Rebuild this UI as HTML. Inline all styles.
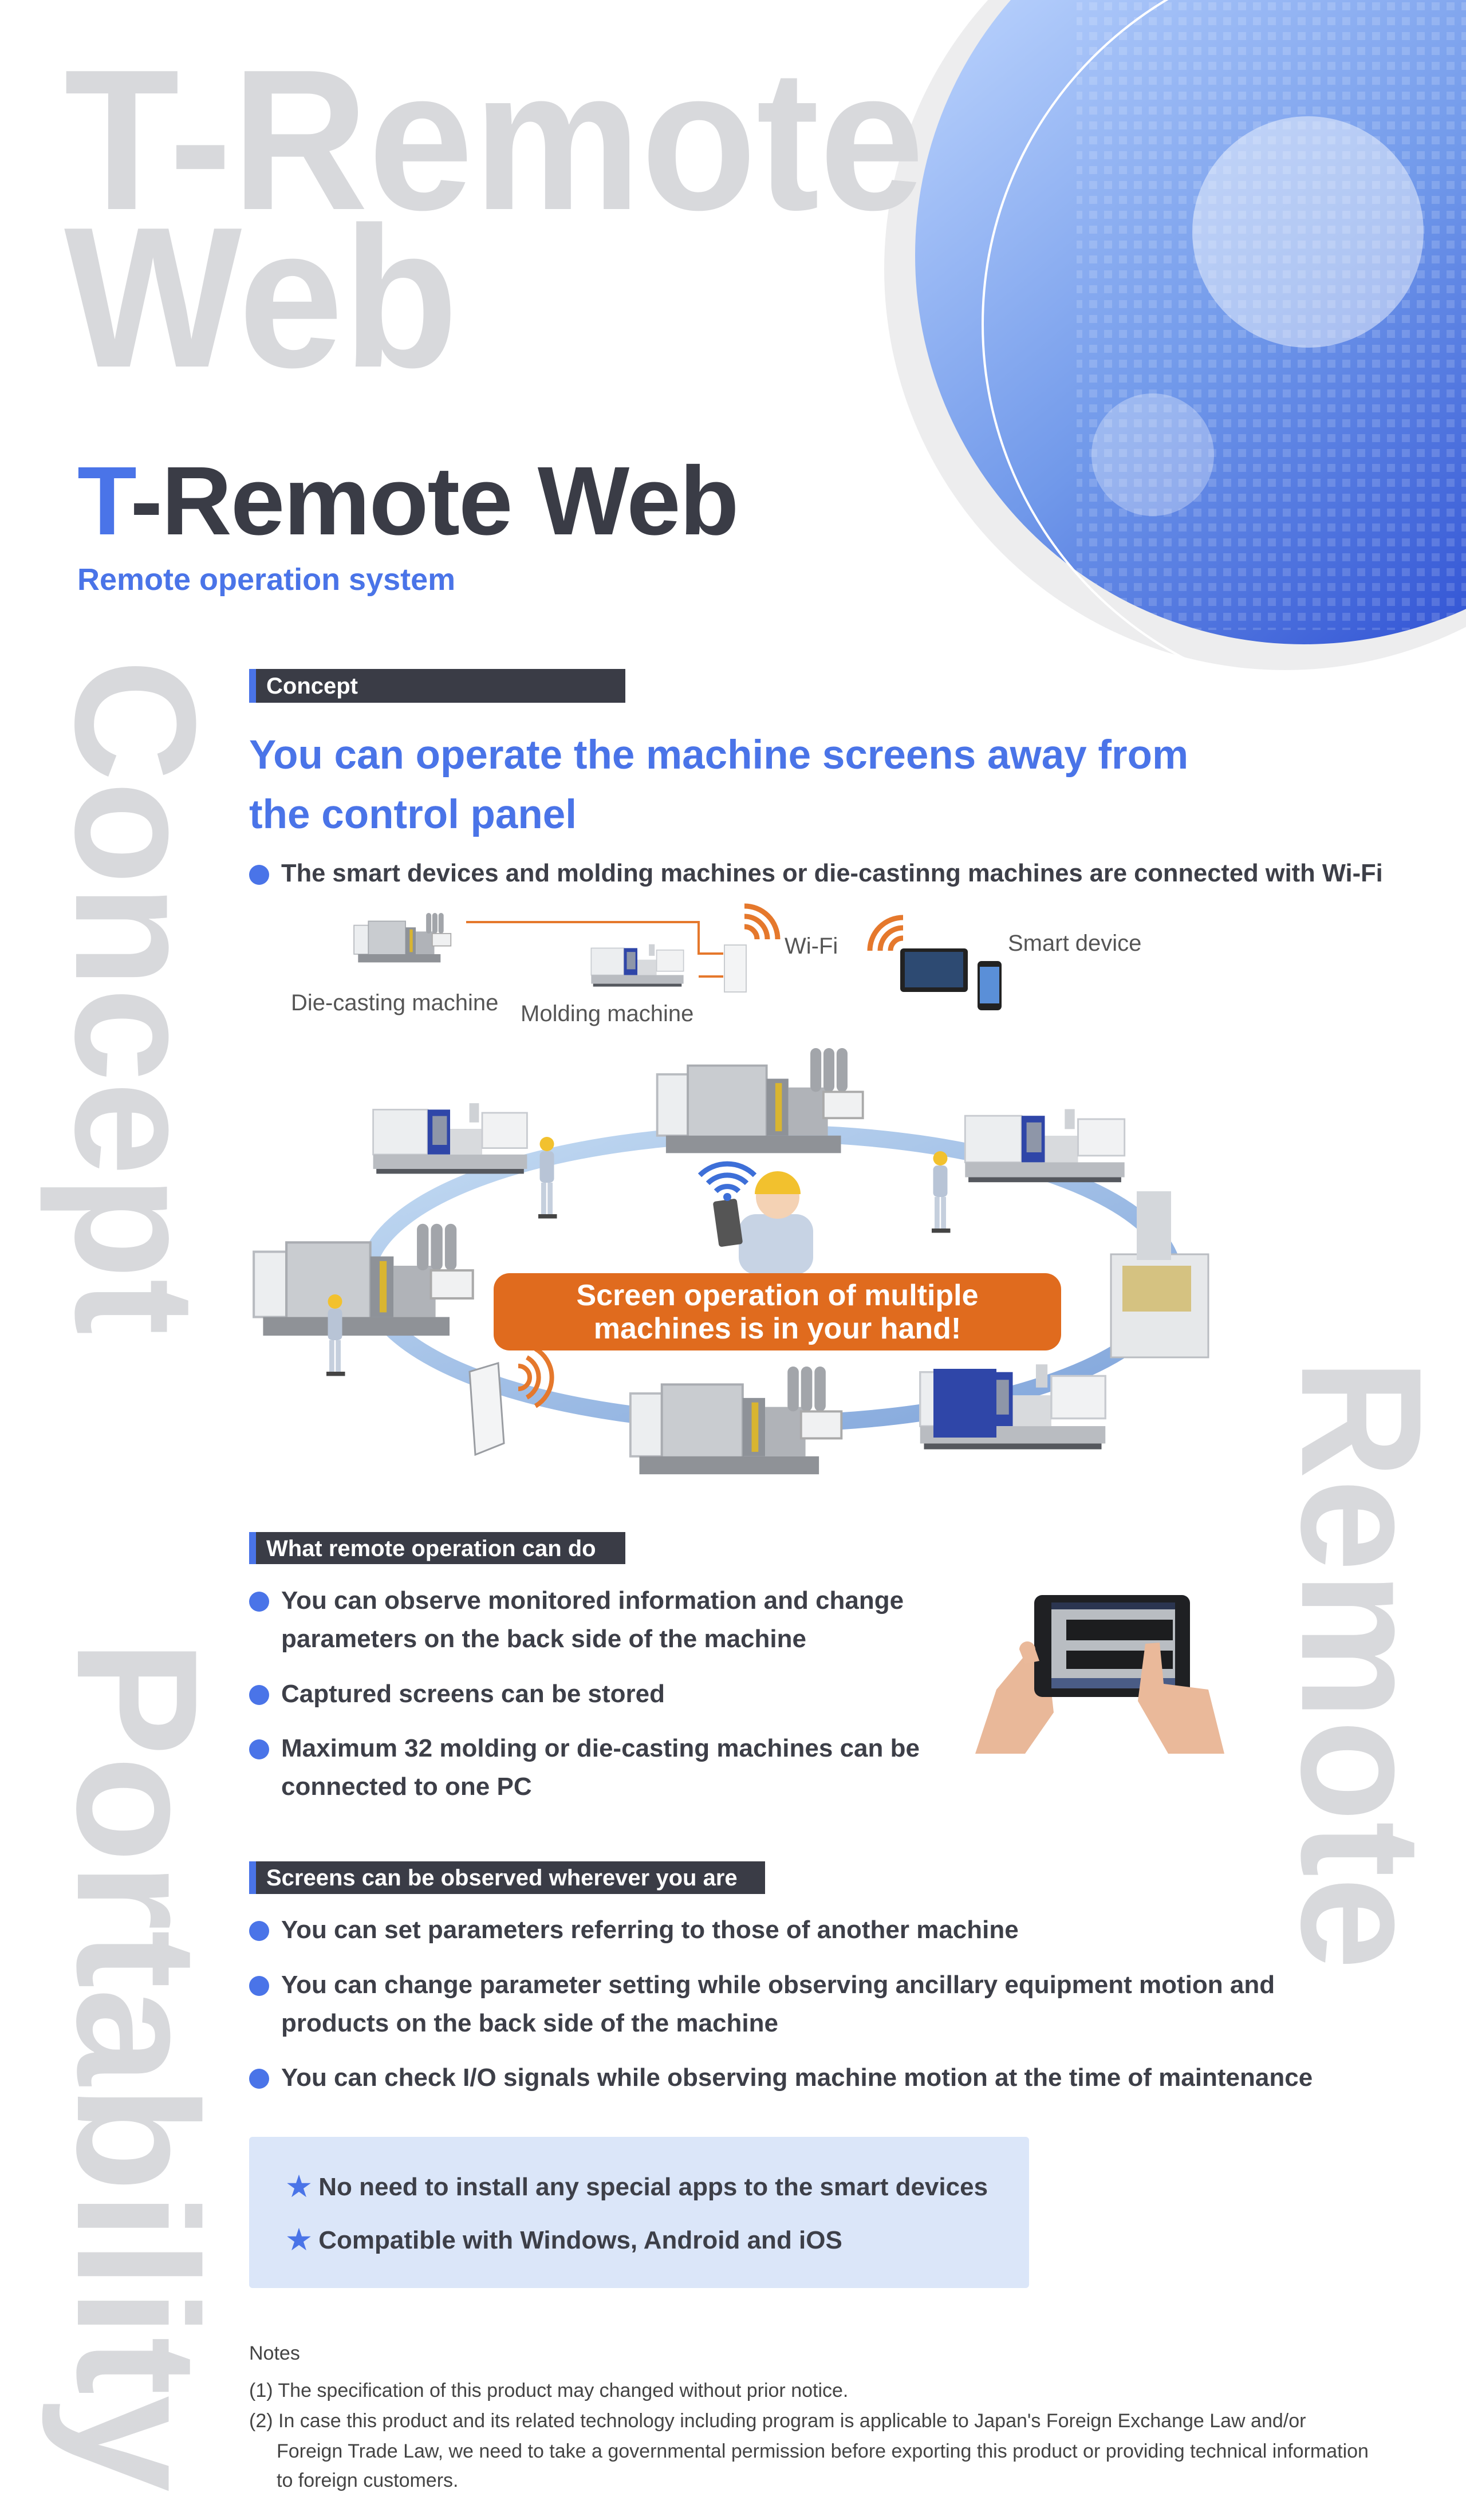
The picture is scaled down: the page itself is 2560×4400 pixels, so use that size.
<!DOCTYPE html>
<html><head><meta charset="utf-8">
<style>
html,body{margin:0;padding:0;background:#fff;}
body{width:2560px;height:4400px;position:relative;overflow:hidden;font-family:"Liberation Sans","Noto Sans CJK JP",sans-serif;}
.t{position:absolute;white-space:nowrap;line-height:1;}
.b{font-weight:bold;color:#3d3f48;font-size:44px;}
.dot{position:absolute;width:35px;height:35px;border-radius:50%;background:#4a74e8;}
.bar{position:absolute;background:#3a3c46;border-left:12px solid #4a74e8;height:59px;box-sizing:border-box;}
.bar span{position:absolute;left:18px;top:10px;color:#fff;font-size:40px;font-weight:bold;line-height:1;white-space:nowrap;}
.n{font-size:34px;color:#444;}
</style></head>
<body>
<svg width="2560" height="4400" style="position:absolute;left:0;top:0" xmlns="http://www.w3.org/2000/svg">
<defs>
<linearGradient id="bg" x1="0.15" y1="0.1" x2="0.85" y2="0.95">
<stop offset="0" stop-color="#b7d0fc"/><stop offset="0.5" stop-color="#7199ea"/><stop offset="1" stop-color="#2b4cd2"/></linearGradient>
<pattern id="dp" width="26" height="26" patternUnits="userSpaceOnUse"><rect x="4" y="4" width="14" height="14" fill="#ffffff" opacity="0.15"/></pattern>
<clipPath id="cc"><circle cx="2277" cy="446" r="679"/></clipPath>
<linearGradient id="ring" x1="0" y1="0" x2="1" y2="1"><stop offset="0" stop-color="#c5dcf3"/><stop offset="1" stop-color="#7ea3da"/></linearGradient>
<symbol id="inj" viewBox="0 0 100 50">
<rect x="2" y="8" width="34" height="28" fill="#eceef0" stroke="#c8cbd0"/>
<rect x="36" y="8" width="14" height="28" fill="#2f46a8"/>
<rect x="39" y="12" width="9" height="18" fill="#8e96a8"/>
<rect x="50" y="20" width="20" height="16" fill="#d8dadd"/>
<rect x="62" y="4" width="6" height="12" fill="#cfd2d6"/>
<rect x="70" y="10" width="28" height="22" fill="#f1f2f3" stroke="#c8cbd0"/>
<rect x="2" y="36" width="96" height="9" fill="#b9bcc1"/>
<rect x="4" y="45" width="92" height="3" fill="#55585e"/>
</symbol>
<symbol id="die" viewBox="0 0 100 50">
<rect x="2" y="12" width="14" height="28" fill="#eceef0" stroke="#b8bbc0"/>
<rect x="16" y="8" width="36" height="34" fill="#c9ccd0" stroke="#a9acb1"/>
<rect x="52" y="14" width="10" height="26" fill="#8e9298"/>
<rect x="56" y="16" width="3" height="22" fill="#d9b530"/>
<rect x="62" y="18" width="18" height="22" fill="#b0b3b8"/>
<rect x="72" y="0" width="5" height="20" rx="2.5" fill="#a2a5aa"/>
<rect x="78" y="0" width="5" height="20" rx="2.5" fill="#a2a5aa"/>
<rect x="84" y="0" width="5" height="20" rx="2.5" fill="#a2a5aa"/>
<rect x="78" y="20" width="18" height="12" fill="#f0f1f2" stroke="#aaa"/>
<rect x="6" y="40" width="80" height="8" fill="#8f9297"/>
</symbol>
<symbol id="man" viewBox="0 0 20 60">
<circle cx="10" cy="7" r="5" fill="#f2c12e"/>
<rect x="5" y="12" width="10" height="22" rx="3" fill="#b8c4d6"/>
<rect x="6" y="34" width="3.5" height="22" fill="#c5cfdd"/>
<rect x="10.5" y="34" width="3.5" height="22" fill="#c5cfdd"/>
<rect x="4" y="56" width="13" height="3" fill="#444"/>
</symbol>
</defs>
<circle cx="2244" cy="470" r="700" fill="#ededee"/>
<circle cx="2277" cy="446" r="679" fill="url(#bg)"/>
<rect x="1880" y="0" width="700" height="1100" fill="url(#dp)" clip-path="url(#cc)"/>
<circle cx="2376" cy="566" r="660" fill="none" stroke="#fff" stroke-width="4"/>
<circle cx="2284" cy="405" r="202" fill="#fff" opacity="0.45"/>
<circle cx="2013" cy="794" r="107" fill="#fff" opacity="0.3"/>
<g font-family="Liberation Sans, sans-serif" font-weight="bold" fill="#d8d9dc">
<text x="112" y="365" font-size="350" textLength="1502" lengthAdjust="spacingAndGlyphs">T-Remote</text>
<text x="112" y="640" font-size="350" textLength="688" lengthAdjust="spacingAndGlyphs">Web</text>
<text transform="translate(133,1151) rotate(90)" font-size="300" textLength="1180" lengthAdjust="spacingAndGlyphs">Concept</text>
<text transform="translate(136,2863) rotate(90)" font-size="300" textLength="1488" lengthAdjust="spacingAndGlyphs">Portability</text>
<text transform="translate(2274,2372) rotate(90)" font-size="300" textLength="1067" lengthAdjust="spacingAndGlyphs">Remote</text>
</g>
<polyline points="814,1610 1220,1610 1220,1665 1263,1665" fill="none" stroke="#e5782c" stroke-width="4"/>
<line x1="1220" y1="1705" x2="1263" y2="1705" stroke="#e5782c" stroke-width="4"/>
<use href="#die" x="595" y="1594" width="219" height="90"/>
<use href="#inj" x="968" y="1642" width="290" height="84"/>
<rect x="1265" y="1650" width="38" height="82" fill="#f3f4f5" stroke="#c9ccd0" stroke-width="2"/>
<g fill="none" stroke="#e5782c" stroke-width="9">
<path d="M1300,1618 a22,22 0 0 1 22,22"/><path d="M1300,1600 a40,40 0 0 1 40,40"/><path d="M1300,1582 a58,58 0 0 1 58,58"/>
<path d="M1555,1660 a22,22 0 0 1 22,-22"/><path d="M1537,1660 a40,40 0 0 1 40,-40"/><path d="M1519,1660 a58,58 0 0 1 58,-58"/>
</g>
<rect x="1572" y="1656" width="118" height="76" rx="6" fill="#222"/>
<rect x="1580" y="1662" width="102" height="62" fill="#2d4a72"/>
<rect x="1707" y="1678" width="42" height="86" rx="7" fill="#222"/>
<rect x="1711" y="1688" width="34" height="64" fill="#5a8fd8"/>
<ellipse cx="1345" cy="2232" rx="705" ry="253" fill="none" stroke="url(#ring)" stroke-width="30"/>
<use href="#inj" x="646" y="1905" width="280" height="160"/>
<use href="#die" x="1131" y="1830" width="400" height="191"/>
<use href="#inj" x="1622" y="1925" width="405" height="145"/>
<rect x="1940" y="2190" width="170" height="180" fill="#e6e8ea" stroke="#b9bcc1" stroke-width="3"/>
<rect x="1985" y="2080" width="60" height="120" fill="#d4d7db"/>
<rect x="1960" y="2210" width="120" height="80" fill="#c9a93a" opacity="0.6"/>
<use href="#die" x="435" y="2133" width="407" height="211"/>
<use href="#die" x="1089" y="2386" width="400" height="196"/>
<use href="#inj" x="1600" y="2366" width="337" height="174"/>
<rect x="1630" y="2390" width="110" height="120" fill="#2f46a8"/>
<path d="M820,2395 L870,2380 L880,2520 L830,2540 Z" fill="#f3f4f5" stroke="#9a9da2" stroke-width="3"/>
<g fill="none" stroke="#e5782c" stroke-width="8">
<path d="M905,2385 a20,20 0 0 1 0,40"/><path d="M920,2370 a40,40 0 0 1 0,70"/><path d="M935,2355 a58,58 0 0 1 0,100"/>
</g>
<use href="#man" x="930" y="1975" width="50" height="160"/>
<use href="#man" x="1617" y="2000" width="50" height="160"/>
<use href="#man" x="560" y="2240" width="50" height="180"/>
<rect x="1290" y="2120" width="130" height="105" rx="30" fill="#c7d3e4"/>
<circle cx="1358" cy="2090" r="38" fill="#f4d2b4"/>
<path d="M1318,2085 a40,40 0 0 1 80,0 Z" fill="#f2c12e"/>
<rect x="1250" y="2095" width="42" height="80" rx="5" fill="#555" transform="rotate(-8 1271 2135)"/>
<g fill="none" stroke="#3d6fd8" stroke-width="9">
<path d="M1250,2080 a28,28 0 0 1 40,0"/><path d="M1236,2066 a48,48 0 0 1 68,0"/><path d="M1222,2052 a68,68 0 0 1 96,0"/>
</g>
<circle cx="1270" cy="2090" r="7" fill="#3d6fd8"/>
<rect x="862" y="2223" width="991" height="135" rx="28" fill="#e06b1e"/>
<path d="M1703,3062 L1740,2950 L1790,2890 L1830,2900 L1840,2990 L1790,3062 Z" fill="#e9b899"/>
<rect x="1806" y="2785" width="272" height="178" rx="14" fill="#1f2023"/>
<rect x="1836" y="2798" width="216" height="150" fill="#b9bdc2"/>
<rect x="1836" y="2798" width="216" height="12" fill="#2b3550"/>
<g fill="#1c1d1f"><rect x="1862" y="2828" width="186" height="36"/><rect x="1862" y="2882" width="186" height="32"/></g>
<rect x="1836" y="2930" width="216" height="18" fill="#4a5c86"/>
<path d="M1987,2970 L2000,2870 L2025,2868 L2032,2940 L2110,2950 L2138,3062 L2040,3062 Z" fill="#eab99a"/>
<path d="M1780,2880 a14,14 0 0 1 28,0 L1815,2900 L1790,2905 Z" fill="#eab99a"/>
<rect x="435" y="3731" width="1362" height="264" rx="6" fill="#dbe6f9"/>
</svg>

<div class="t" style="left:135px;top:790px;font-size:170px;font-weight:bold;color:#3a3c46;letter-spacing:-2px;"><span style="color:#4a74e8">T</span>-Remote Web</div>
<div class="t" style="left:135px;top:985px;font-size:54px;font-weight:bold;color:#4a74e8;">Remote operation system</div>

<div class="bar" style="left:435px;top:1168px;width:657px;"><span>Concept</span></div>
<div class="t" style="left:435px;top:1283px;font-size:71px;font-weight:bold;color:#4a74e8;">You can operate the machine screens away from</div>
<div class="t" style="left:435px;top:1387px;font-size:71px;font-weight:bold;color:#4a74e8;">the control panel</div>
<div class="dot" style="left:435px;top:1510px;"></div>
<div class="t b" style="left:491px;top:1504px;font-size:43.5px;">The smart devices and molding machines or die-castinng machines are connected with Wi-Fi</div>

<div class="t" style="left:508px;top:1731px;font-size:40px;color:#555;">Die-casting machine</div>
<div class="t" style="left:909px;top:1750px;font-size:40px;color:#555;">Molding machine</div>
<div class="t" style="left:1370px;top:1632px;font-size:40px;color:#555;">Wi-Fi</div>
<div class="t" style="left:1760px;top:1627px;font-size:40px;color:#555;">Smart device</div>

<div class="t" style="left:862px;width:991px;text-align:center;top:2236px;font-size:52px;font-weight:bold;color:#fff;">Screen operation of multiple</div>
<div class="t" style="left:862px;width:991px;text-align:center;top:2294px;font-size:52px;font-weight:bold;color:#fff;">machines is in your hand!</div>

<div class="bar" style="left:435px;top:2675px;width:657px;height:56px;"><span style="top:9px">What remote operation can do</span></div>
<div class="dot" style="left:435px;top:2779px;"></div>
<div class="t b" style="left:491px;top:2773px;">You can observe monitored information and change</div>
<div class="t b" style="left:491px;top:2840px;">parameters on the back side of the machine</div>
<div class="dot" style="left:435px;top:2942px;"></div>
<div class="t b" style="left:491px;top:2936px;">Captured screens can be stored</div>
<div class="dot" style="left:435px;top:3037px;"></div>
<div class="t b" style="left:491px;top:3031px;">Maximum 32 molding or die-casting machines can be</div>
<div class="t b" style="left:491px;top:3098px;">connected to one PC</div>

<div class="bar" style="left:435px;top:3250px;width:901px;height:57px;"><span style="top:9px">Screens can be observed wherever you are</span></div>
<div class="dot" style="left:435px;top:3354px;"></div>
<div class="t b" style="left:491px;top:3348px;">You can set parameters referring to those of another machine</div>
<div class="dot" style="left:435px;top:3450px;"></div>
<div class="t b" style="left:491px;top:3444px;">You can change parameter setting while observing ancillary equipment motion and</div>
<div class="t b" style="left:491px;top:3511px;">products on the back side of the machine</div>
<div class="dot" style="left:435px;top:3612px;"></div>
<div class="t b" style="left:491px;top:3606px;">You can check I/O signals while observing machine motion at the time of maintenance</div>

<div class="t b" style="left:500px;top:3797px;"><span style="color:#4a74e8">★</span> No need to install any special apps to the smart devices</div>
<div class="t b" style="left:500px;top:3890px;"><span style="color:#4a74e8">★</span> Compatible with Windows, Android and iOS</div>

<div class="t n" style="left:435px;top:4092px;">Notes</div>
<div class="t n" style="left:435px;top:4157px;">(1) The specification of this product may changed without prior notice.</div>
<div class="t n" style="left:435px;top:4210px;">(2) In case this product and its related technology including program is applicable to Japan's Foreign Exchange Law and/or</div>
<div class="t n" style="left:483px;top:4263px;">Foreign Trade Law, we need to take a governmental permission before exporting this product or providing technical information</div>
<div class="t n" style="left:483px;top:4314px;">to foreign customers.</div>
</body></html>
